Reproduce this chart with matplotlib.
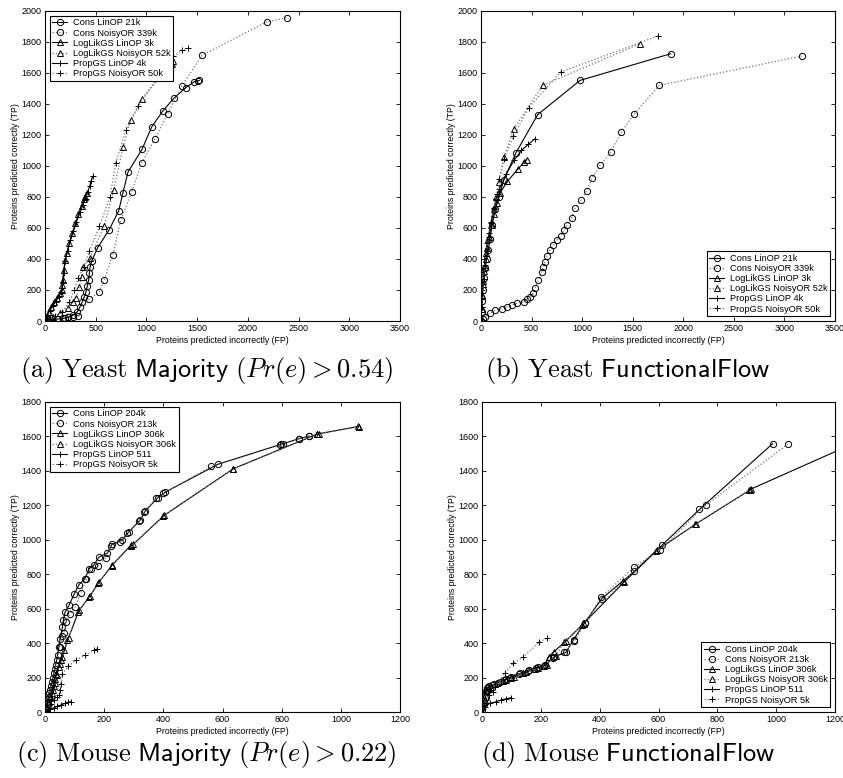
import matplotlib
matplotlib.use('Agg')
import matplotlib.pyplot as plt

# ---- (a) Yeast Majority ----
a_cons_lin_x = [0, 50, 120, 181, 230, 279, 319, 345, 368, 388, 404, 417, 430, 437, 444, 460, 519, 631, 726, 769, 818, 956, 1051, 1160, 1275, 1387, 1472, 1510, 1521]
a_cons_lin_y = [0, 6, 12, 17, 24, 39, 60, 92, 125, 157, 189, 226, 264, 307, 346, 387, 473, 587, 709, 828, 961, 1107, 1251, 1354, 1440, 1505, 1544, 1550, 1552]
a_cons_nor_x = [0, 60, 131, 197, 230, 279, 328, 437, 532, 585, 667, 746, 854, 953, 1084, 1209, 1347, 1548, 2185, 2389]
a_cons_nor_y = [0, 5, 11, 21, 28, 28, 32, 142, 185, 267, 424, 649, 832, 1021, 1176, 1337, 1514, 1714, 1929, 1957]
a_ll_lin_x = [0, 15, 35, 60, 90, 120, 150, 165, 170, 175, 185, 197, 215, 240, 269, 300, 330, 360, 385, 394, 411]
a_ll_lin_y = [0, 30, 60, 90, 120, 150, 180, 200, 230, 265, 330, 393, 440, 500, 565, 630, 690, 745, 785, 802, 823]
a_ll_nor_x = [0, 40, 82, 148, 230, 279, 305, 338, 361, 378, 444, 585, 677, 769, 845, 953, 1255, 1265]
a_ll_nor_y = [0, 12, 28, 49, 82, 125, 146, 221, 286, 346, 406, 615, 847, 1122, 1294, 1434, 1660, 1675]
a_pg_lin_x = [0, 20, 45, 75, 105, 135, 160, 168, 175, 185, 200, 222, 250, 280, 310, 345, 375, 400, 420, 440, 455, 470]
a_pg_lin_y = [0, 35, 65, 95, 125, 155, 185, 210, 250, 310, 390, 450, 520, 580, 640, 700, 750, 790, 830, 870, 905, 933]
a_pg_nor_x = [0, 50, 100, 170, 240, 290, 330, 380, 437, 536, 641, 697, 799, 920, 1230, 1265, 1347, 1406]
a_pg_nor_y = [0, 15, 30, 60, 120, 200, 280, 350, 450, 610, 800, 1019, 1234, 1385, 1690, 1707, 1746, 1761]

# ---- (b) Yeast FunctionalFlow ----
b_cons_lin_x = [0, 5, 10, 18, 28, 40, 56, 73, 89, 110, 140, 175, 227, 346, 560, 979, 1875]
b_cons_lin_y = [0, 60, 130, 200, 280, 340, 400, 460, 530, 620, 720, 800, 912, 1086, 1331, 1552, 1724]
b_cons_nor_x = [0, 16, 40, 89, 138, 204, 254, 303, 353, 428, 452, 484, 511, 534, 567, 600, 616, 633, 649, 682, 715, 748, 791, 824, 847, 896, 929, 989, 1045, 1101, 1177, 1282, 1388, 1516, 1763, 3171]
b_cons_nor_y = [0, 15, 28, 49, 71, 80, 92, 103, 114, 125, 140, 157, 178, 211, 264, 318, 350, 383, 419, 458, 490, 522, 548, 587, 619, 662, 727, 780, 841, 924, 1004, 1090, 1219, 1337, 1520, 1709]
b_ll_lin_x = [0, 5, 12, 20, 30, 45, 60, 80, 105, 130, 160, 188, 260, 369, 428, 452]
b_ll_lin_y = [0, 80, 160, 240, 320, 400, 470, 540, 620, 690, 760, 826, 900, 983, 1026, 1041]
b_ll_nor_x = [0, 5, 12, 22, 35, 50, 70, 95, 125, 150, 178, 227, 326, 610, 1572]
b_ll_nor_y = [0, 80, 170, 260, 350, 440, 530, 620, 720, 800, 897, 1058, 1241, 1520, 1789]
b_pg_lin_x = [0, 5, 12, 20, 30, 45, 60, 80, 100, 125, 150, 180, 250, 330, 400, 468, 534]
b_pg_lin_y = [0, 90, 180, 260, 340, 420, 500, 570, 640, 720, 790, 850, 950, 1040, 1100, 1140, 1176]
b_pg_nor_x = [0, 6, 14, 25, 38, 55, 75, 100, 130, 160, 181, 227, 320, 471, 788, 1747]
b_pg_nor_y = [0, 90, 180, 270, 360, 450, 540, 630, 730, 820, 918, 1047, 1191, 1376, 1606, 1838]

# ---- (c) Mouse Majority ----
c_cons_lin_x = [0, 3, 6, 10, 15, 20, 27, 33, 39, 47, 51, 59, 62, 68, 81, 98, 115, 135, 149, 164, 183, 211, 226, 260, 283, 321, 339, 381, 407, 584, 799, 805, 859, 893]
c_cons_lin_y = [0, 20, 45, 75, 110, 150, 200, 250, 300, 377, 426, 493, 532, 581, 619, 683, 740, 774, 832, 851, 900, 923, 973, 997, 1045, 1113, 1167, 1244, 1277, 1438, 1555, 1558, 1587, 1602]
c_cons_nor_x = [0, 4, 8, 12, 18, 24, 30, 37, 44, 50, 57, 64, 72, 85, 102, 120, 140, 155, 178, 205, 222, 255, 278, 318, 335, 375, 400, 562, 795, 860, 893]
c_cons_nor_y = [0, 25, 55, 90, 130, 175, 225, 275, 330, 380, 440, 460, 525, 570, 610, 690, 770, 830, 845, 895, 965, 990, 1040, 1110, 1160, 1240, 1270, 1426, 1550, 1587, 1600]
c_ll_lin_x = [0, 5, 10, 16, 22, 30, 34, 38, 50, 59, 76, 115, 151, 183, 228, 290, 298, 403, 637, 918, 927, 1059]
c_ll_lin_y = [0, 25, 50, 80, 110, 150, 190, 223, 281, 319, 416, 590, 671, 755, 855, 968, 973, 1142, 1413, 1612, 1616, 1658]
c_ll_nor_x = [0, 6, 12, 18, 26, 33, 40, 47, 55, 65, 80, 110, 148, 180, 225, 292, 400, 635, 920, 1060]
c_ll_nor_y = [0, 30, 60, 95, 130, 170, 215, 260, 300, 360, 430, 580, 665, 750, 850, 965, 1140, 1410, 1615, 1655]
c_pg_lin_x = [0, 8, 18, 30, 42, 55, 68, 78, 87]
c_pg_lin_y = [0, 8, 16, 25, 33, 42, 50, 56, 60]
c_pg_nor_x = [0, 10, 20, 30, 40, 47, 50, 53, 59, 78, 106, 135, 166, 175]
c_pg_nor_y = [0, 20, 45, 70, 90, 101, 130, 164, 223, 265, 304, 329, 358, 368]

# ---- (d) Mouse FunctionalFlow ----
d_cons_lin_x = [0, 5, 10, 14, 18, 25, 40, 60, 80, 100, 130, 160, 190, 215, 245, 285, 311, 349, 407, 518, 611, 739, 988]
d_cons_lin_y = [0, 40, 80, 120, 140, 150, 160, 175, 190, 205, 225, 245, 262, 272, 320, 346, 420, 519, 658, 817, 967, 1176, 1558]
d_cons_nor_x = [0, 6, 12, 16, 22, 35, 55, 75, 95, 125, 155, 185, 210, 240, 280, 314, 350, 405, 518, 606, 762, 1039]
d_cons_nor_y = [0, 45, 90, 130, 145, 155, 170, 185, 200, 220, 240, 258, 270, 315, 350, 412, 515, 668, 842, 942, 1203, 1554]
d_ll_lin_x = [0, 8, 15, 25, 45, 70, 100, 140, 180, 210, 226, 243, 285, 345, 483, 594, 728, 909, 915, 1330]
d_ll_lin_y = [0, 60, 120, 140, 165, 180, 198, 225, 250, 265, 319, 348, 412, 513, 755, 938, 1093, 1287, 1295, 1610]
d_ll_nor_x = [0, 10, 18, 30, 50, 80, 110, 150, 190, 220, 250, 280, 340, 480, 590, 725, 912]
d_ll_nor_y = [0, 70, 125, 145, 168, 185, 205, 230, 255, 275, 325, 405, 505, 760, 935, 1090, 1290]
d_pg_lin_x = [0, 5, 9, 26, 48, 65, 82, 99]
d_pg_lin_y = [0, 15, 31, 50, 60, 70, 77, 83]
d_pg_nor_x = [0, 8, 15, 25, 37, 43, 77, 105, 139, 195, 221]
d_pg_nor_y = [0, 40, 70, 100, 118, 147, 224, 282, 317, 408, 428]

labels_yeast = ['Cons LinOP 21k', 'Cons NoisyOR 339k', 'LogLikGS LinOP 3k',
                'LogLikGS NoisyOR 52k', 'PropGS LinOP 4k', 'PropGS NoisyOR 50k']
labels_mouse = ['Cons LinOP 204k', 'Cons NoisyOR 213k', 'LogLikGS LinOP 306k',
                'LogLikGS NoisyOR 306k', 'PropGS LinOP 511', 'PropGS NoisyOR 5k']

captions = [r'$\mathrm{(a)\ Yeast\ }\mathsf{Majority}\ (Pr(e) > 0.54)$',
            r'$\mathrm{(b)\ Yeast\ }\mathsf{FunctionalFlow}$',
            r'$\mathrm{(c)\ Mouse\ }\mathsf{Majority}\ (Pr(e) > 0.22)$',
            r'$\mathrm{(d)\ Mouse\ }\mathsf{FunctionalFlow}$']

plt.rcParams['font.family'] = ['Liberation Sans', 'DejaVu Sans']
plt.rcParams['mathtext.fontset'] = 'cm'

fig = plt.figure(figsize=(8.43, 7.78), dpi=100)

boxes = [[0.0534, 0.5874, 0.4211, 0.3985],
         [0.5706, 0.5874, 0.4199, 0.3985],
         [0.0534, 0.0848, 0.4211, 0.3985],
         [0.5718, 0.0848, 0.4187, 0.3985]]

panels = [
    [(a_cons_lin_x, a_cons_lin_y), (a_cons_nor_x, a_cons_nor_y), (a_ll_lin_x, a_ll_lin_y),
     (a_ll_nor_x, a_ll_nor_y), (a_pg_lin_x, a_pg_lin_y), (a_pg_nor_x, a_pg_nor_y)],
    [(b_cons_lin_x, b_cons_lin_y), (b_cons_nor_x, b_cons_nor_y), (b_ll_lin_x, b_ll_lin_y),
     (b_ll_nor_x, b_ll_nor_y), (b_pg_lin_x, b_pg_lin_y), (b_pg_nor_x, b_pg_nor_y)],
    [(c_cons_lin_x, c_cons_lin_y), (c_cons_nor_x, c_cons_nor_y), (c_ll_lin_x, c_ll_lin_y),
     (c_ll_nor_x, c_ll_nor_y), (c_pg_lin_x, c_pg_lin_y), (c_pg_nor_x, c_pg_nor_y)],
    [(d_cons_lin_x, d_cons_lin_y), (d_cons_nor_x, d_cons_nor_y), (d_ll_lin_x, d_ll_lin_y),
     (d_ll_nor_x, d_ll_nor_y), (d_pg_lin_x, d_pg_lin_y), (d_pg_nor_x, d_pg_nor_y)],
]
markers = ['o', 'o', '^', '^', '+', '+']
styles = ['-', ':', '-', ':', '-', ':']
xlims = [3500, 3500, 1200, 1200]
ylims = [2000, 2000, 1800, 1800]
legend_locs = ['upper left', 'lower right', 'upper left', 'lower right']
cap_pos = [(0.245, 0.524), (0.745, 0.524), (0.245, 0.0296), (0.745, 0.0296)]

for i in range(4):
    ax = fig.add_axes(boxes[i])
    for (xs, ys), m, ls, lab in zip(panels[i], markers, styles, labels_yeast if i < 2 else labels_mouse):
        col = 'black' if ls == '-' else '0.45'
        ax.plot(xs, ys, linestyle=ls, color=col, lw=0.8 if ls == '-' else 0.9,
                marker=m, ms=4.5 if m != '+' else 5, mfc='none', mec='black',
                mew=0.7, label=lab)
    ax.set_xlim(0, xlims[i])
    ax.set_ylim(0, ylims[i])
    ax.set_xticks(range(0, xlims[i] + 1, 500 if i < 2 else 200))
    ax.set_yticks(range(0, ylims[i] + 1, 200))
    ax.tick_params(direction='in', top=True, right=True, length=3, width=0.6, labelsize=6.5, pad=2.5)
    for s in ax.spines.values():
        s.set_linewidth(0.8)
    ax.set_xlabel('Proteins predicted incorrectly (FP)', fontsize=6.3, labelpad=2)
    ax.set_ylabel('Proteins predicted correctly (TP)', fontsize=6.3, labelpad=1)
    leg = ax.legend(loc=legend_locs[i], fontsize=6.7, frameon=True, fancybox=False,
                    edgecolor='black', framealpha=1, handlelength=1.6,
                    handletextpad=0.6, borderpad=0.3, labelspacing=0.12,
                    borderaxespad=0.5)
    leg.get_frame().set_linewidth(0.8)
    fig.text(cap_pos[i][0], cap_pos[i][1], captions[i], ha='center', va='center', fontsize=19)

fig.savefig('out.png', dpi=100)
